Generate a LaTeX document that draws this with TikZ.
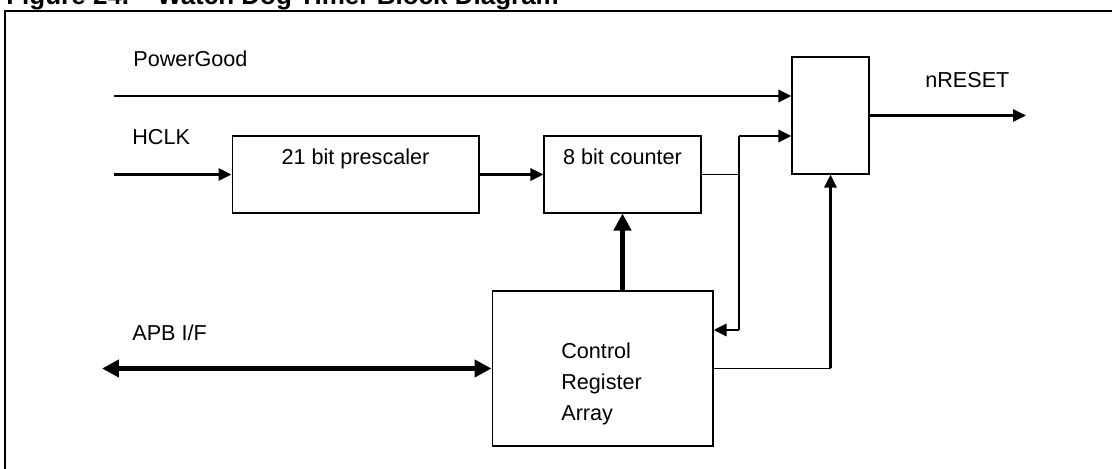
\documentclass[tikz,border=0pt]{standalone}
\usepackage{fontspec}
\setmainfont{Liberation Sans}
\usetikzlibrary{arrows.meta}

\begin{document}
\begin{tikzpicture}[x=0.02cm, y=-0.02cm,
	txt/.style={inner sep=0pt, font=\fontsize{12.3pt}{17.6pt}\selectfont},
	blk/.style={draw, line width=0.6pt, inner sep=0pt},
	wire/.style={line width=0.6pt},
	sig/.style={line width=1.7pt, -{Triangle[length=0.26cm, width=0.24cm]}},
	bus/.style={line width=3.4pt, >={Triangle[length=0.34cm, width=0.34cm]}}]
	\clip (0,0) rectangle (1112,469);
	\node[anchor=base west, inner sep=0pt, font=\bfseries\fontsize{14.8pt}{16pt}\selectfont] (title) at (6,5) {Figure 24.\hspace{0.56cm}Watch Dog Timer Block Diagram};
	\draw[line width=1.1pt] (5,11) rectangle (1200,600);

	\node[blk, minimum width=4.94cm, minimum height=1.54cm] (pre) at (355.5,174.5) {};
	\node[blk, minimum width=3.14cm, minimum height=1.54cm] (cnt) at (622.5,174.5) {};
	\node[blk, minimum width=1.54cm, minimum height=2.34cm] (rst) at (830.5,115.5) {};
	\node[blk, minimum width=4.42cm, minimum height=3.1cm] (cra) at (602.5,368.5) {};

	\node[txt, anchor=base] (pretext) at (pre.center |- 0,165) {21 bit prescaler};
	\node[txt, anchor=base] (cnttext) at (cnt.center |- 0,165) {8 bit counter};
	\node[txt, anchor=west, align=left] (cratext) at (561,384) {Control\\Register\\Array};

	\node[txt, anchor=base west] (pglabel) at (133,67) {PowerGood};
	\node[txt, anchor=base west] (hclklabel) at (132,145) {HCLK};
	\node[txt, anchor=base west] (apblabel) at (132,341) {APB I/F};
	\node[txt, anchor=base west] (rstlabel) at (925,88) {nRESET};

	\coordinate (pg) at (114,96);
	\coordinate (hclk) at (114,174.5);
	\coordinate (apb) at (102,368.5);
	\coordinate (out) at (1026,115.5);
	\coordinate (jn) at (739,174.5);
	\coordinate (jtop) at (739,136);
	\coordinate (jbot) at (739,330);

	\draw[sig] (pg) -- (pg -| rst.west);
	\draw[sig] (hclk) -- (pre.west);
	\draw[sig] (pre.east) -- (cnt.west);
	\draw[wire] (cnt.east) -- (jn);
	\draw[wire] (jtop) -- (jbot);
	\draw[sig] (jtop) -- (jtop -| rst.west);
	\draw[sig] (jbot) -- (jbot -| cra.east);
	\draw[sig] (rst.east) -- (out);
	\draw[wire] (cra.east) -- (cra.east -| rst.south);
	\draw[sig] (cra.east -| rst.south) -- (rst.south);
	\draw[bus, ->] (cnt.south |- cra.north) -- (cnt.south);
	\draw[bus, <->] (apb) -- (cra.west);
\end{tikzpicture}
\end{document}
